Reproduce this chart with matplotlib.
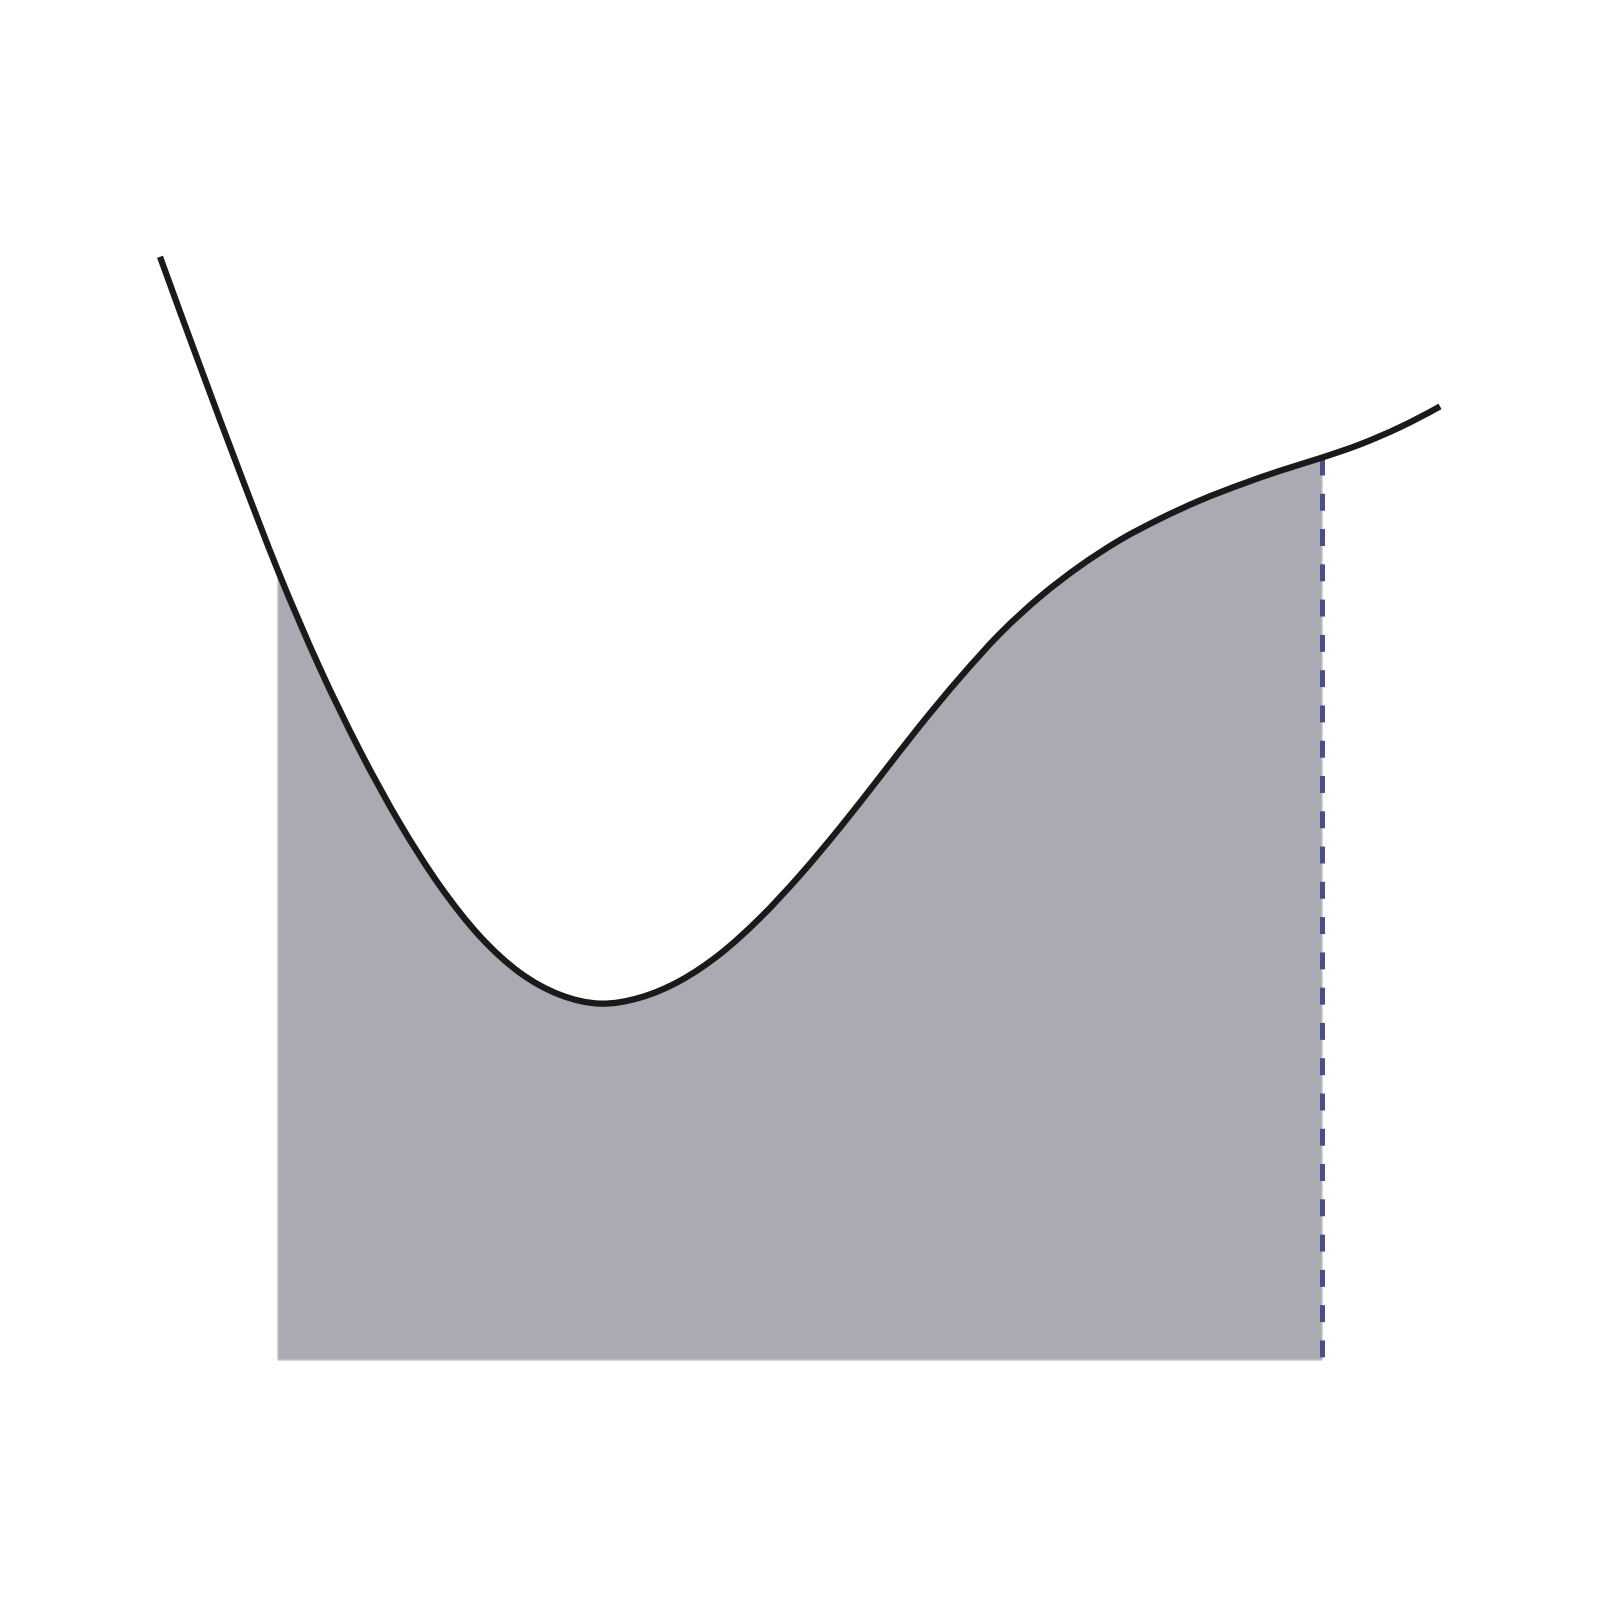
import numpy as np
import matplotlib.pyplot as plt
from matplotlib.path import Path
from matplotlib.patches import PathPatch

plt.rcParams['lines.scale_dashes'] = False

# Points
x = np.array([0, 1, 2, 2.95, 4, 5, 6, 7, 8, 9, 10, 11, 12, 13, 14, 15, 16,
              17, 18, 19, 20, 21, 22, 23, 24, 25, 26, 27, 28, 29.05, 30, 31, 32])
y = np.array([27.58, 24.85, 22.18, 19.73, 17.29, 15.23, 13.41, 11.85, 10.59,
              9.68, 9.13, 8.91, 9.06, 9.48, 10.15, 11.05, 12.12, 13.31, 14.58,
              15.86, 17.06, 18.16, 19.08, 19.85, 20.50, 21.03, 21.49, 21.88,
              22.23, 22.56, 22.89, 23.32, 23.84])

# Bornes de l'intégrale
a, b = 2.95, 29.05


def segments_bezier(xs, ys):
    # pentes aux points (différences centrées), pour tracer une courbe lisse
    m = np.gradient(ys, xs, edge_order=2)
    verts = []
    for i in range(len(xs) - 1):
        h = xs[i + 1] - xs[i]
        verts += [(xs[i] + h / 3, ys[i] + m[i] * h / 3),
                  (xs[i + 1] - h / 3, ys[i + 1] - m[i + 1] * h / 3),
                  (xs[i + 1], ys[i + 1])]
    return verts


fig = plt.figure(figsize=(16, 16), dpi=100)
ax = fig.add_axes([0, 0, 1, 1])

courbe = segments_bezier(x, y)

# Aire sous la courbe entre a et b
ia = int(np.where(x == a)[0][0])
ib = int(np.where(x == b)[0][0])
verts = [(a, 0), (a, y[ia])] + courbe[3 * ia:3 * ib] + [(b, 0), (a, 0)]
codes = ([Path.MOVETO, Path.LINETO] + [Path.CURVE4] * (3 * (ib - ia))
         + [Path.LINETO, Path.CLOSEPOLY])
ax.add_patch(PathPatch(Path(verts, codes), facecolor="#a9aab2",
                       edgecolor="#c4c5ca", linewidth=1, zorder=1))

# Trait vertical en pointillés en x = b
ax.plot([b, b], [y[ib], 0], color="#4b4f87", linewidth=3.6,
        dashes=(12.2, 13.2), dash_capstyle="butt", zorder=2)

# La courbe
codes_c = [Path.MOVETO] + [Path.CURVE4] * len(courbe)
ax.add_patch(PathPatch(Path([(x[0], y[0])] + courbe, codes_c),
                       facecolor="none", edgecolor="#1a1a1a", linewidth=4.5,
                       capstyle="butt", joinstyle="round", zorder=3))

ax.set_xlim(-4, 36)
ax.set_ylim(-6, 34)
ax.axis("off")

fig.savefig("out.png", dpi=100, facecolor="white")
